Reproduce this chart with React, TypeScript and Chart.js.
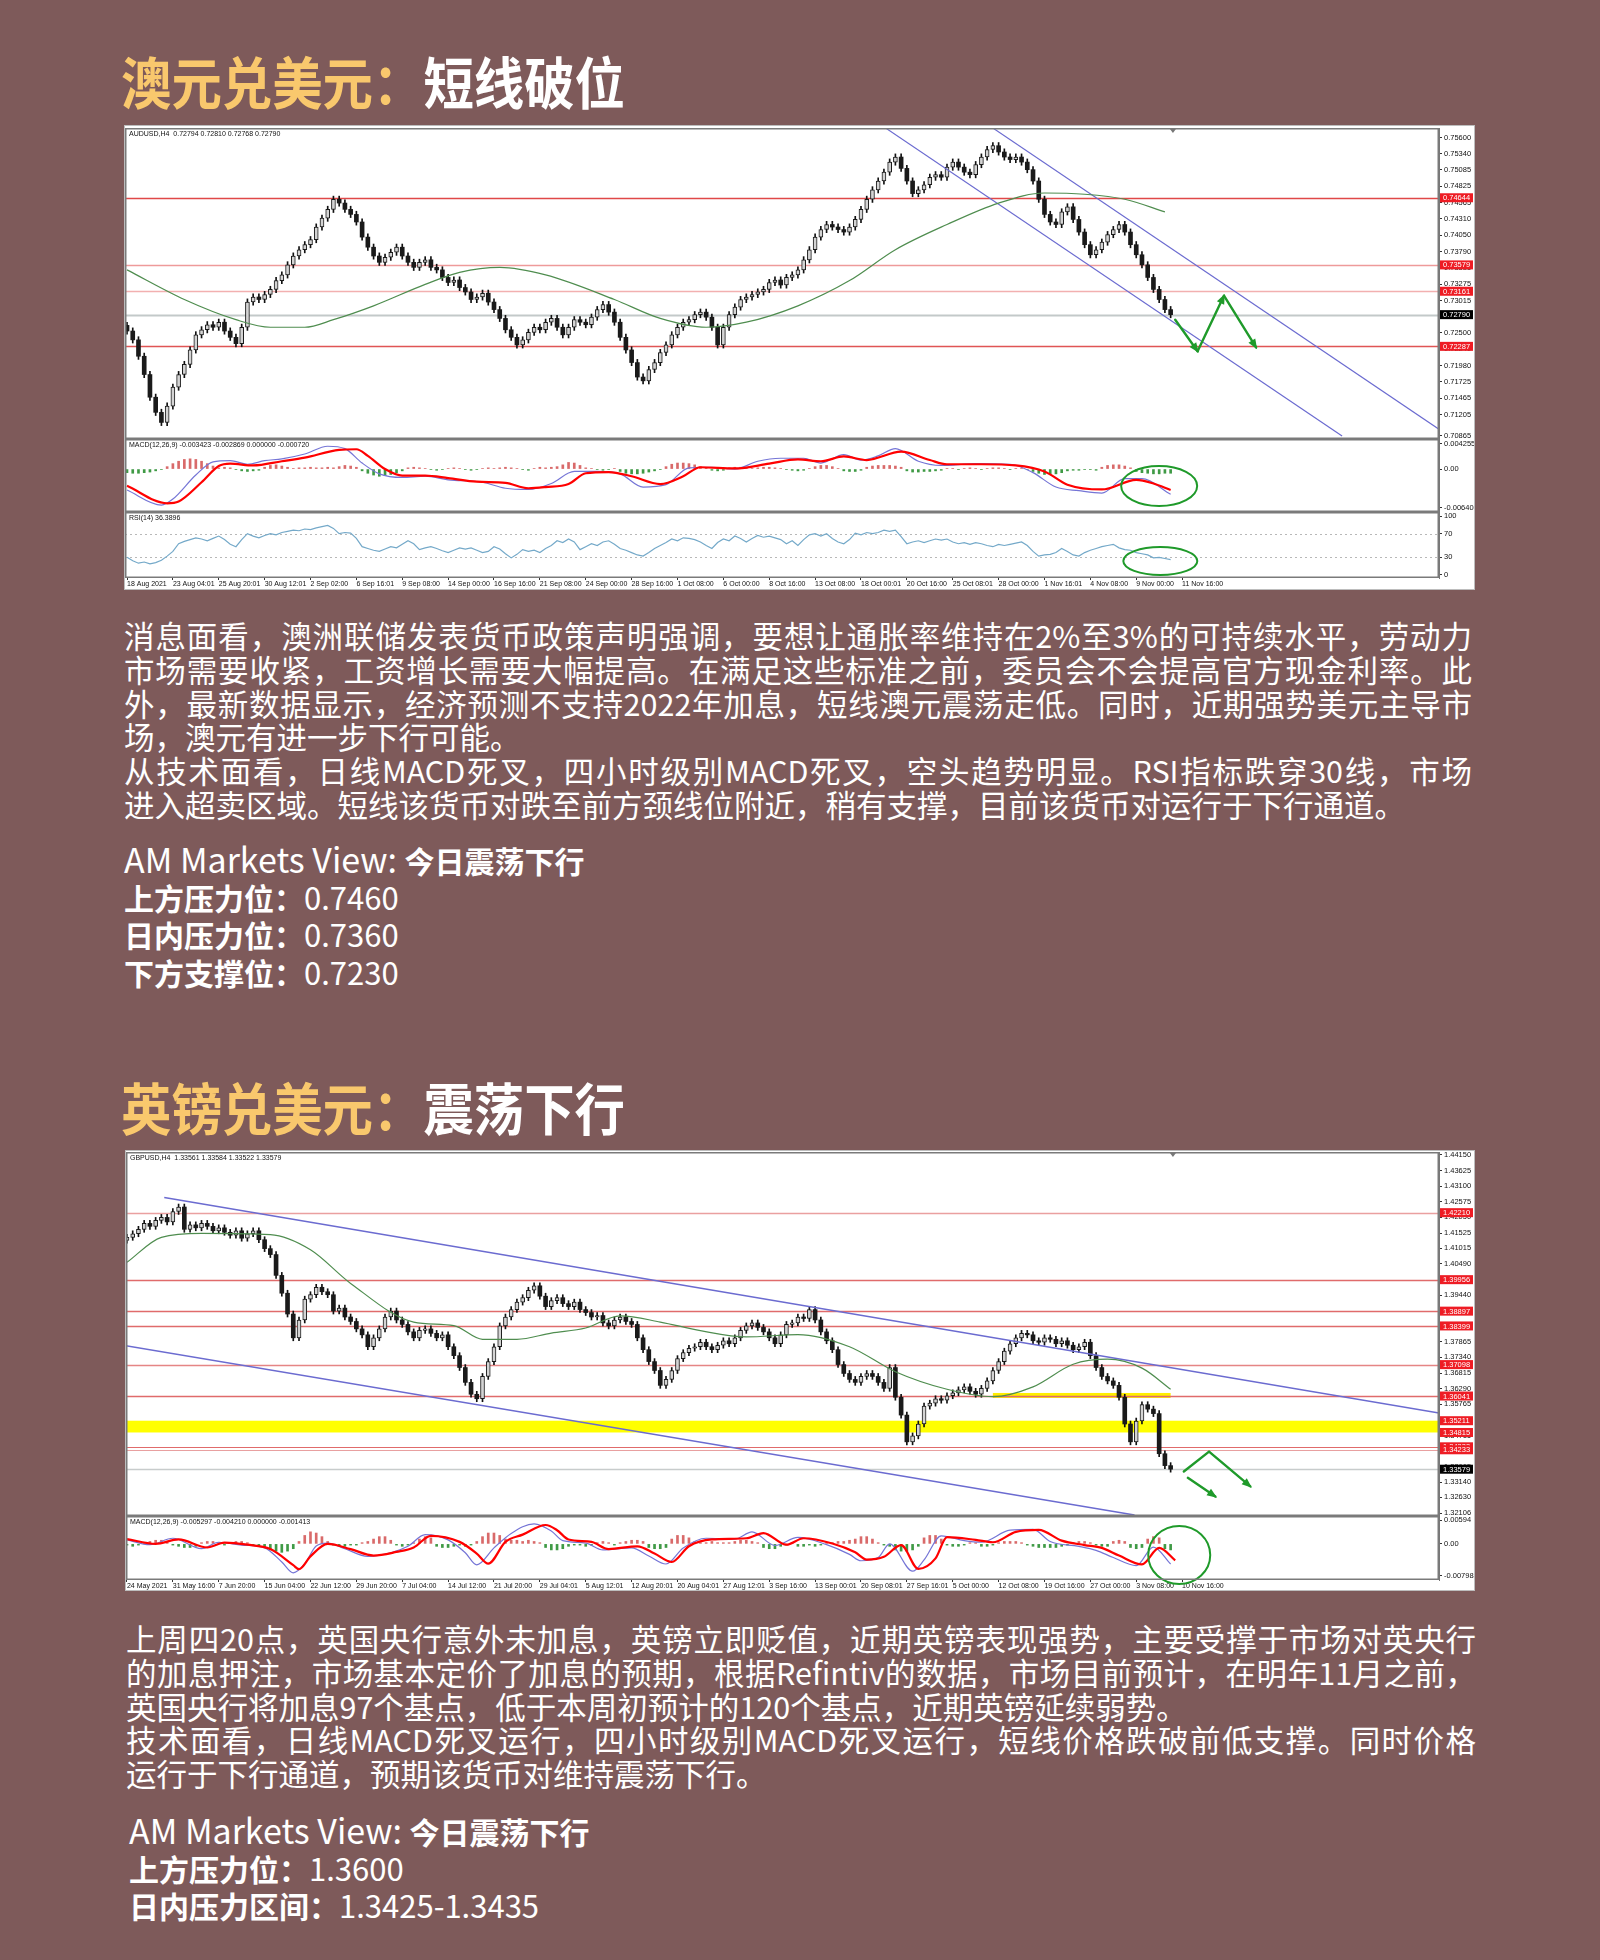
import React, { useEffect, useRef } from "react";
import { Chart, registerables } from "chart.js";

Chart.register(...registerables);

const PAGE_BG = "#7e5a5a";
const TITLE_GOLD = "#f9c86d";
const CJK = '"Noto Sans CJK SC", "Noto Sans", sans-serif';
const AXF = '"Liberation Sans", "DejaVu Sans", sans-serif';

// ================= AUD/USD =================
const AUD_DATES = ["18 Aug 2021", "23 Aug 04:01", "25 Aug 20:01", "30 Aug 12:01", "2 Sep 02:00", "6 Sep 16:01", "9 Sep 08:00", "14 Sep 00:00", "16 Sep 16:00", "21 Sep 08:00", "24 Sep 00:00", "28 Sep 16:00", "1 Oct 08:00", "6 Oct 00:00", "8 Oct 16:00", "13 Oct 08:00", "18 Oct 00:01", "20 Oct 16:00", "25 Oct 08:01", "28 Oct 00:00", "1 Nov 16:01", "4 Nov 08:00", "9 Nov 00:00", "11 Nov 16:00"];
const AUD_PRICE_TICKS = [0.756, 0.7534, 0.75085, 0.74825, 0.74565, 0.7431, 0.7405, 0.7379, 0.73535, 0.73275, 0.73015, 0.7276, 0.725, 0.7224, 0.7198, 0.71725, 0.71465, 0.71205, 0.70865];
const AUD_OPEN0 = 0.7262;
const AUD_CLOSE = [
  0.7253, 0.7239, 0.7213, 0.7184, 0.7148, 0.7124, 0.7108, 0.7134, 0.7164, 0.7184,
  0.7200, 0.7223, 0.7247, 0.7255, 0.7263, 0.7259, 0.7267, 0.7253, 0.7243, 0.7233,
  0.7259, 0.7299, 0.7307, 0.7303, 0.7311, 0.7319, 0.7333, 0.7342, 0.7358, 0.7372,
  0.7382, 0.7390, 0.7398, 0.7418, 0.7432, 0.7446, 0.7462, 0.7456, 0.7446, 0.7438,
  0.7426, 0.7402, 0.7386, 0.7372, 0.7362, 0.7370, 0.7378, 0.7386, 0.7372, 0.7362,
  0.7354, 0.7362, 0.7366, 0.7354, 0.7350, 0.7338, 0.7330, 0.7334, 0.7322, 0.7315,
  0.7303, 0.7307, 0.7313, 0.7299, 0.7287, 0.7273, 0.7255, 0.7243, 0.7231, 0.7239,
  0.7251, 0.7259, 0.7255, 0.7267, 0.7273, 0.7259, 0.7247, 0.7259, 0.7271, 0.7267,
  0.7263, 0.7275, 0.7287, 0.7295, 0.7283, 0.7267, 0.7243, 0.7223, 0.7203, 0.7180,
  0.7174, 0.7192, 0.7203, 0.7219, 0.7231, 0.7247, 0.7259, 0.7267, 0.7271, 0.7279,
  0.7283, 0.7275, 0.7259, 0.7231, 0.7259, 0.7279, 0.7291, 0.7303, 0.7307, 0.7311,
  0.7315, 0.7319, 0.7330, 0.7334, 0.7326, 0.7338, 0.7342, 0.7350, 0.7366, 0.7382,
  0.7402, 0.7414, 0.7422, 0.7418, 0.7414, 0.7410, 0.7418, 0.7430, 0.7446, 0.7462,
  0.7477, 0.7491, 0.7505, 0.7521, 0.7529, 0.7511, 0.7491, 0.7471, 0.7477, 0.7485,
  0.7497, 0.7501, 0.7497, 0.7513, 0.7521, 0.7513, 0.7505, 0.7501, 0.7517, 0.7529,
  0.7541, 0.7547, 0.7537, 0.7529, 0.7525, 0.7529, 0.7521, 0.7509, 0.7491, 0.7462,
  0.7438, 0.7426, 0.7422, 0.7442, 0.7450, 0.7430, 0.7410, 0.7390, 0.7374, 0.7382,
  0.7394, 0.7406, 0.7414, 0.7422, 0.7410, 0.7390, 0.7374, 0.7358, 0.7338, 0.7319,
  0.7303, 0.7287, 0.7279,
];
const AUD_MA = [[0, 0.7350], [10, 0.7303], [19, 0.7271], [25, 0.7259], [31, 0.7259], [36, 0.7271], [43, 0.7293], [52, 0.7327], [58, 0.7346], [65, 0.7354], [73, 0.7342], [85, 0.7303], [93, 0.7273], [101, 0.7259], [108, 0.7267], [117, 0.7293], [126, 0.7333], [134, 0.7382], [143, 0.7422], [152, 0.7456], [160, 0.7472], [167, 0.7470], [174, 0.7462], [181, 0.7442]];
const AUD_CH_LOWER = [[132.3, 0.7575], [211.9, 0.70865]];
const AUD_CH_UPPER = [[151, 0.7575], [229, 0.7096]];
const AUD_LEVELS = [0.74644, 0.73579, 0.73161, 0.72287];
const AUD_LAST = 0.7279;
const AUD_ARROWS = [[182.8, 0.7271], [186.7, 0.7221], [191.3, 0.7309], [196.9, 0.7227]];
const AUD_MACD_MAIN = [[0, -0.0035], [6, -0.0060], [8, -0.0050], [12, -0.0010], [15, 0.0012], [18, 0.0014], [21, 0.0008], [24, 0.0014], [27, 0.0017], [31, 0.0025], [35, 0.0038], [38, 0.0034], [41, 0.0010], [44, -0.0008], [48, -0.0014], [52, -0.0012], [56, -0.0018], [62, -0.0022], [66, -0.0032], [70, -0.0034], [74, -0.0024], [78, -0.0004], [82, -0.0004], [86, -0.0008], [90, -0.0030], [94, -0.0026], [98, 0.0002], [102, 0.0003], [106, 0.0000], [110, 0.0013], [114, 0.0018], [118, 0.0018], [121, 0.0010], [125, 0.0024], [128, 0.0015], [131, 0.0022], [134, 0.0034], [138, 0.0013], [142, 0.0006], [148, 0.0009], [154, 0.0008], [158, -0.0006], [162, -0.0030], [166, -0.0036], [170, -0.0040], [174, -0.0016], [177, -0.0016], [182, -0.0042]];
const AUD_MACD_SIGNAL = [[0, -0.0028], [7, -0.0057], [9, -0.0054], [13, -0.0022], [16, 0.0005], [18, 0.0009], [22, 0.0006], [27, 0.0013], [31, 0.0019], [37, 0.0032], [40, 0.0033], [42, 0.0022], [45, 0.0000], [48, -0.0011], [52, -0.0011], [56, -0.0015], [61, -0.0021], [66, -0.0023], [70, -0.0032], [73, -0.0030], [77, -0.0025], [80, -0.0007], [84, -0.0005], [88, -0.0012], [93, -0.0025], [97, -0.0012], [100, 0.0003], [106, 0.0001], [112, 0.0009], [117, 0.0016], [121, 0.0013], [125, 0.0021], [129, 0.0015], [135, 0.0029], [140, 0.0015], [143, 0.0008], [149, 0.0008], [155, 0.0006], [160, -0.0004], [164, -0.0026], [170, -0.0034], [176, -0.0018], [179, -0.0024], [182, -0.0035]];
const AUD_HIST_UNIT = 0.0001;
const AUD_HIST = [
  -6, -7, -7, -6, -5, -3, -1,
  4, 9, 13, 16, 17, 16, 13, 9, 5,
  2, 3, 2, -1,
  -3, -4, -3, -2,
  3, 6, 7, 5, 3,
  1, 2, 2, 3, 2, 2, 3, 2,
  4, 6, 5, 3,
  -3, -7, -10, -12, -11, -9, -6, -3,
  2, 3, 2,
  1, -1, -2, -1, 1, 2, 1, -1, -2, -1, 1, 2, 1,
  2, 3, 2, 1, -1, -2, 1, 3, 2, 3, 4,
  7, 11, 10, 6,
  2, 1, -1, -2, -1, 1,
  -4, -7, -8, -8, -7, -5, -3, -1,
  4, 8, 10, 10, 9, 7, 4,
  2, -2, -3, -2,
  2, 3, 3, 2, 1, 2, 3, 3, 2, 1, -1, -2,
  -3, -2, 1,
  4, 6, 6, 4, 1,
  -3, -4, -4, -2,
  3, 5, 6, 6, 6, 5, 3,
  -3, -5, -5, -4, -4, -3, -2,
  1, 1, -1, 1, 2, 1, -1, 1, 2, 2, 1, -1, 1, 1, -1,
  -4, -7, -9, -9, -8, -6, -3,
  -2, -2, -1, -1, -2,
  3, 6, 7, 7, 5, 2,
  -4, -6, -7, -8, -8, -7, -7,
];
const AUD_RSI = [
  30, 24, 20, 22, 19, 21, 25, 32, 40, 53,
  57, 60, 63, 61, 58, 62, 66, 60, 52, 48,
  60, 70, 66, 63, 67, 70, 68, 72, 74, 76,
  75, 78, 77, 80, 82, 84, 79, 70, 72, 71,
  62, 48, 45, 42, 40, 44, 48, 46, 52, 58,
  53, 43, 46, 48, 45, 41, 38, 42, 46, 44,
  46, 42, 38, 40, 48, 44, 36, 29, 35, 43,
  40, 42, 38, 45, 50, 58, 55, 61, 56, 43,
  48, 53, 50, 56, 58, 52, 45, 42, 38, 34,
  32, 38, 45, 50, 55, 61, 58, 63, 62, 60,
  56, 50, 45, 55, 61, 58, 66, 62, 56, 62,
  67, 64, 66, 63, 60, 53, 58, 50, 60, 68,
  70, 66, 70, 62, 56, 53, 60, 71, 68, 72,
  70, 72, 76, 74, 76, 65, 53, 56, 58, 55,
  58, 61, 59, 61, 56, 53, 55, 52, 55, 53,
  50, 48, 52, 50, 52, 54, 56, 50, 40, 32,
  34, 35, 38, 45, 40, 34, 32, 38, 42, 45,
  48, 50, 52, 46, 43, 42, 38, 36, 34, 29,
  30, 28, 26,
];

// ================= GBP/USD =================
const GBP_DATES = ["24 May 2021", "31 May 16:00", "7 Jun 20:00", "15 Jun 04:00", "22 Jun 12:00", "29 Jun 20:00", "7 Jul 04:00", "14 Jul 12:00", "21 Jul 20:00", "29 Jul 04:01", "5 Aug 12:01", "12 Aug 20:01", "20 Aug 04:01", "27 Aug 12:01", "3 Sep 16:00", "13 Sep 00:01", "20 Sep 08:01", "27 Sep 16:01", "5 Oct 00:00", "12 Oct 08:00", "19 Oct 16:00", "27 Oct 00:00", "3 Nov 08:00", "10 Nov 16:00"];
const GBP_PRICE_TICKS = [1.4415, 1.43625, 1.431, 1.42575, 1.4205, 1.41525, 1.41015, 1.4049, 1.39965, 1.3944, 1.38915, 1.3839, 1.37865, 1.3734, 1.36815, 1.3629, 1.35765, 1.3524, 1.34715, 1.3419, 1.33665, 1.3314, 1.3263, 1.32106];
const GBP_OPEN0 = 1.4128;
const GBP_CLOSE = [
  1.4138, 1.4150, 1.4165, 1.4185, 1.4175, 1.4195, 1.4205, 1.4190, 1.4225, 1.4240,
  1.4165, 1.4180, 1.4170, 1.4185, 1.4175, 1.4160, 1.4170, 1.4155, 1.4145, 1.4160,
  1.4135, 1.4150, 1.4160, 1.4130, 1.4100, 1.4080, 1.4010, 1.3950, 1.3880, 1.3800,
  1.3860, 1.3930, 1.3945, 1.3970, 1.3955, 1.3945, 1.3890, 1.3900, 1.3870, 1.3855,
  1.3830, 1.3810, 1.3770, 1.3800, 1.3830, 1.3870, 1.3890, 1.3860, 1.3845, 1.3820,
  1.3800, 1.3825, 1.3830, 1.3815, 1.3800, 1.3810, 1.3770, 1.3740, 1.3700, 1.3650,
  1.3610, 1.3595, 1.3670, 1.3720, 1.3770, 1.3840, 1.3870, 1.3895, 1.3920, 1.3935,
  1.3960, 1.3975, 1.3940, 1.3905, 1.3925, 1.3935, 1.3915, 1.3905, 1.3920, 1.3895,
  1.3885, 1.3870, 1.3875, 1.3850, 1.3840, 1.3860, 1.3870, 1.3855, 1.3845, 1.3800,
  1.3760, 1.3720, 1.3690, 1.3640, 1.3660, 1.3690, 1.3730, 1.3750, 1.3765, 1.3770,
  1.3785, 1.3770, 1.3760, 1.3775, 1.3790, 1.3780, 1.3800, 1.3825, 1.3840, 1.3850,
  1.3835, 1.3820, 1.3800, 1.3780, 1.3810, 1.3845, 1.3850, 1.3870, 1.3865, 1.3895,
  1.3860, 1.3820, 1.3790, 1.3760, 1.3710, 1.3680, 1.3660, 1.3650, 1.3670, 1.3680,
  1.3670, 1.3650, 1.3630, 1.3700, 1.3600, 1.3540, 1.3450, 1.3470, 1.3510, 1.3570,
  1.3580, 1.3595, 1.3590, 1.3605, 1.3615, 1.3625, 1.3635, 1.3620, 1.3610, 1.3630,
  1.3655, 1.3690, 1.3720, 1.3755, 1.3780, 1.3800, 1.3815, 1.3810, 1.3790, 1.3785,
  1.3800, 1.3795, 1.3780, 1.3790, 1.3775, 1.3760, 1.3770, 1.3785, 1.3740, 1.3700,
  1.3670, 1.3655, 1.3640, 1.3600, 1.3510, 1.3450, 1.3520, 1.3575, 1.3560, 1.3545,
  1.3410, 1.3370, 1.3358,
];
const GBP_MA = [[0, 1.4054], [6, 1.4138], [13, 1.4151], [25, 1.4147], [32, 1.4096], [39, 1.3983], [50, 1.3853], [57, 1.3841], [62, 1.3795], [68, 1.3795], [74, 1.3816], [80, 1.3833], [86, 1.3874], [93, 1.3853], [100, 1.3824], [108, 1.3803], [117, 1.3811], [126, 1.3770], [134, 1.3686], [143, 1.3627], [151, 1.3602], [158, 1.3635], [165, 1.3711], [171, 1.3728], [177, 1.3698], [182, 1.3627]];
const GBP_CH_UPPER = [[6.5, 1.4272], [228.8, 1.3547]];
const GBP_CH_LOWER = [[-1, 1.3776], [175.7, 1.3204]];
const GBP_LEVELS = [1.4221, 1.39956, 1.38897, 1.38399, 1.37098, 1.36041, 1.35211, 1.34815, 1.34333, 1.34233];
const GBP_LAST = 1.33579;
const GBP_BAND = [1.34815, 1.35211];
const GBP_SHORT_SEG = [151, 182, 1.3606];
const GBP_ARROW_A = [[184.3, 1.3350], [188.7, 1.3417], [195.9, 1.3300]];
const GBP_ARROW_B = [[185, 1.3329], [189.8, 1.3266]];
const GBP_MACD_MAIN = [[0, 0.0010], [4, -0.0002], [8, 0.0014], [13, -0.0012], [16, 0.0004], [20, -0.0003], [24, -0.0010], [27, -0.0045], [29, -0.0072], [31, -0.0050], [33, -0.0005], [35, 0.0002], [38, -0.0012], [42, -0.0031], [46, -0.0022], [49, -0.0006], [52, 0.0023], [56, 0.0010], [59, -0.0022], [61, -0.0052], [64, -0.0010], [67, 0.0026], [71, 0.0050], [74, 0.0032], [76, 0.0008], [80, 0.0002], [83, -0.0015], [88, -0.0010], [91, -0.0030], [94, -0.0050], [97, -0.0010], [101, 0.0014], [106, 0.0012], [109, 0.0030], [113, -0.0004], [117, 0.0016], [122, -0.0002], [126, -0.0026], [128, -0.0042], [131, -0.0034], [133, 0.0000], [137, -0.0068], [139, -0.0040], [142, 0.0020], [146, 0.0008], [149, 0.0004], [154, 0.0034], [158, 0.0036], [161, 0.0006], [166, -0.0006], [169, -0.0016], [172, -0.0034], [176, -0.0054], [179, -0.0008], [182, -0.0050]];
const GBP_MACD_SIGNAL = [[0, 0.0012], [5, 0.0000], [9, 0.0011], [14, -0.0009], [17, 0.0003], [21, -0.0002], [25, -0.0013], [29, -0.0053], [30, -0.0063], [32, -0.0031], [35, 0.0000], [39, -0.0013], [43, -0.0029], [47, -0.0020], [50, -0.0009], [53, 0.0020], [58, 0.0005], [61, -0.0024], [63, -0.0049], [66, 0.0005], [69, 0.0023], [73, 0.0047], [75, 0.0034], [77, 0.0011], [81, 0.0005], [84, -0.0013], [89, -0.0006], [92, -0.0024], [95, -0.0045], [98, -0.0006], [102, 0.0011], [108, 0.0014], [111, 0.0027], [115, -0.0002], [118, 0.0014], [123, 0.0001], [127, -0.0021], [129, -0.0039], [132, -0.0032], [135, -0.0003], [138, -0.0062], [141, -0.0036], [143, 0.0017], [148, 0.0010], [151, 0.0004], [155, 0.0030], [159, 0.0035], [163, 0.0008], [167, -0.0003], [170, -0.0010], [173, -0.0029], [177, -0.0051], [180, -0.0010], [182.8, -0.0041]];
const GBP_HIST_UNIT = 0.0003;
const GBP_HIST = [
  -1, -2, -1, 1, 2, 3, 3, 2, -1, -2,
  -3, -3, -2, 1, 2, 2, 1, -1, 1, 2,
  2, 1, -1, -2,
  -3, -5, -6, -7, -6, -4, 2,
  7, 10, 9, 6, 2,
  -1, -2, -2, -1, -1, 1, 2,
  4, 6, 6, 3,
  -1, -2, -1, 1,
  4, 6, 5,
  -2, -3, -3, -2,
  -1, -2, -1, 2,
  6, 9, 9, 7, 4,
  3, 3, 2, 3, 2, 1,
  -3, -5, -5, -4, -2,
  -1, -1, -2, -1, 1, 2, 1, -1, 1, 2,
  3, 3, 2,
  -3, -4, -4, -3,
  4, 7, 7, 5,
  2, 1, 1, 2, 1, 1, 1, 2,
  3, 3, 2, 1,
  -3, -4, -4, -2, -1, 1,
  -2, -2, -1, -2, -1,
  1, 1, 2, 2, 3, 4,
  6, 6, 4,
  1, -1, -2,
  -5, -6, -6, -5, -2,
  5, 7, 7, 4,
  -1, -2, -2, -1, 1, 1,
  -2, -2, -1,
  1, 2, 2, 2, 1, -1,
  -2, -3, -3, -3, -3, -2, -1,
  1, 2, 2, 1,
  -1, -2, -2,
  2, 3, 2,
  -3, -4, -3,
  4, 6, 5,
  -4, -5,
];

// ================= text =================
const P1_LINES = [
  ["消息面看，澳洲联储发表货币政策声明强调，要想让通胀率维持在2%至3%的可持续水平，劳动力", true],
  ["市场需要收紧，工资增长需要大幅提高。在满足这些标准之前，委员会不会提高官方现金利率。此", true],
  ["外，最新数据显示，经济预测不支持2022年加息，短线澳元震荡走低。同时，近期强势美元主导市", true],
  ["场，澳元有进一步下行可能。", false],
  ["从技术面看，日线MACD死叉，四小时级别MACD死叉，空头趋势明显。RSI指标跌穿30线，市场", true],
  ["进入超卖区域。短线该货币对跌至前方颈线位附近，稍有支撑，目前该货币对运行于下行通道。", false],
];
const P2_LINES = [
  ["上周四20点，英国央行意外未加息，英镑立即贬值，近期英镑表现强势，主要受撑于市场对英央行", true],
  ["的加息押注，市场基本定价了加息的预期，根据Refintiv的数据，市场目前预计，在明年11月之前，", true],
  ["英国央行将加息97个基点，低于本周初预计的120个基点，近期英镑延续弱势。", false],
  ["技术面看，日线MACD死叉运行，四小时级别MACD死叉运行，短线价格跌破前低支撑。同时价格", true],
  ["运行于下行通道，预期该货币对维持震荡下行。", false],
];
const VIEW1 = [
  [["AM Markets View: ", 400, 34], ["今日震荡下行", 700, 30]],
  [["上方压力位：", 700, 30], ["0.7460", 400, 31]],
  [["日内压力位：", 700, 30], ["0.7360", 400, 31]],
  [["下方支撑位：", 700, 30], ["0.7230", 400, 31]],
];
const VIEW2 = [
  [["AM Markets View: ", 400, 34], ["今日震荡下行", 700, 30]],
  [["上方压力位：", 700, 30], ["1.3600", 400, 31]],
  [["日内压力区间：", 700, 30], ["1.3425-1.3435", 400, 31]],
];

// ================= chart helpers =================
function candleSets(closes: number[], open0: number, pad: number) {
  const opens = closes.map((c, i) => (i === 0 ? open0 : closes[i - 1]));
  const up = closes.map((c, i) => c >= opens[i]);
  return [
    {
      type: "bar", yAxisID: "yMain", grouped: false, order: 4, barThickness: 1,
      data: closes.map((c, i) => ({ x: i, y: [Math.min(c, opens[i]) - pad, Math.max(c, opens[i]) + pad] })),
      backgroundColor: "#111",
    },
    {
      type: "bar", yAxisID: "yMain", grouped: false, order: 3, barThickness: 4, minBarLength: 1,
      data: closes.map((c, i) => ({ x: i, y: [opens[i], c] })),
      backgroundColor: up.map((u) => (u ? "#d4d4d4" : "#1a1a1a")),
      borderColor: "#1a1a1a", borderWidth: up.map((u) => (u ? 1 : 0)), borderSkipped: false,
    },
  ];
}
function lineSet(pts: number[][], axis: string, color: string, width: number, tension: number) {
  return {
    type: "line", yAxisID: axis, order: 1, data: pts.map(([x, y]) => ({ x, y })),
    borderColor: color, borderWidth: width, pointRadius: 0, tension, fill: false,
    cubicInterpolationMode: tension > 0 ? "monotone" : "default",
  };
}
function histSet(vals: number[], unit: number) {
  return {
    type: "bar", yAxisID: "yMacd", grouped: false, order: 5, barThickness: 2,
    data: vals.map((v, i) => ({ x: i, y: v * unit })),
    backgroundColor: vals.map((v) => (v >= 0 ? "#d96a6a" : "#3f9a45")),
  };
}

function makeDecor(spec: any) {
  return {
    id: "mt4decor",
    beforeDatasetsDraw(chart: any) {
      const { ctx, chartArea: ca } = chart;
      const xs = chart.scales.x;
      const ym = chart.scales.yMain;
      ctx.save();
      for (const b of spec.bands || []) {
        const y1 = ym.getPixelForValue(b.from), y2 = ym.getPixelForValue(b.to);
        ctx.fillStyle = b.color;
        ctx.fillRect(ca.left, Math.min(y1, y2), ca.right - ca.left, Math.abs(y2 - y1));
      }
      for (const s of spec.segs || []) {
        const y = ym.getPixelForValue(s.value);
        ctx.fillStyle = s.color;
        const x0 = xs.getPixelForValue(s.x0), x1 = xs.getPixelForValue(s.x1);
        ctx.fillRect(x0, y - s.h / 2, x1 - x0, s.h);
      }
      for (const l of spec.levels || []) {
        const y = Math.round(ym.getPixelForValue(l.value)) + 0.5;
        ctx.strokeStyle = l.color;
        ctx.lineWidth = l.width || 1;
        ctx.beginPath();
        ctx.moveTo(ca.left, y);
        ctx.lineTo(ca.right, y);
        ctx.stroke();
      }
      for (const d of spec.dotted || []) {
        const sc = chart.scales[d.axis];
        const y = Math.round(sc.getPixelForValue(d.value)) + 0.5;
        ctx.strokeStyle = "#b8b8b8";
        ctx.lineWidth = 1;
        ctx.setLineDash([2, 3]);
        ctx.beginPath();
        ctx.moveTo(ca.left, y);
        ctx.lineTo(ca.right, y);
        ctx.stroke();
        ctx.setLineDash([]);
      }
      ctx.restore();
    },
    afterDraw(chart: any) {
      const { ctx, chartArea: ca } = chart;
      const xs = chart.scales.x;
      ctx.save();
      ctx.strokeStyle = "#1f9a2a";
      ctx.fillStyle = "#1f9a2a";
      ctx.lineWidth = 2.4;
      ctx.lineCap = "round";
      for (const a of spec.arrows || []) {
        const sc = chart.scales[a.axis];
        const p0 = [xs.getPixelForValue(a.from[0]), sc.getPixelForValue(a.from[1])];
        const p1 = [xs.getPixelForValue(a.to[0]), sc.getPixelForValue(a.to[1])];
        ctx.beginPath();
        ctx.moveTo(p0[0], p0[1]);
        ctx.lineTo(p1[0], p1[1]);
        ctx.stroke();
        if (a.head) {
          const ang = Math.atan2(p1[1] - p0[1], p1[0] - p0[0]);
          const L = 8, Wd = 4;
          ctx.beginPath();
          ctx.moveTo(p1[0] + Math.cos(ang) * 2, p1[1] + Math.sin(ang) * 2);
          ctx.lineTo(p1[0] - Math.cos(ang) * L + Math.sin(ang) * Wd, p1[1] - Math.sin(ang) * L - Math.cos(ang) * Wd);
          ctx.lineTo(p1[0] - Math.cos(ang) * L - Math.sin(ang) * Wd, p1[1] - Math.sin(ang) * L + Math.cos(ang) * Wd);
          ctx.closePath();
          ctx.fill();
        }
      }
      ctx.lineWidth = 2;
      for (const e of spec.ellipses || []) {
        const sc = chart.scales[e.axis];
        ctx.beginPath();
        ctx.ellipse(xs.getPixelForValue(e.x), sc.getPixelForValue(e.y), e.rx, e.ry, 0, 0, Math.PI * 2);
        ctx.stroke();
      }
      ctx.strokeStyle = "#7a7a7a";
      ctx.lineWidth = 1.5;
      for (const p of spec.panels) {
        const sc = chart.scales[p.id];
        ctx.strokeRect(ca.left + 0.75, sc.top + 0.75, ca.right - ca.left - 1.5, sc.bottom - sc.top - 1.5);
      }
      ctx.fillStyle = "#111";
      ctx.font = "7px " + AXF;
      ctx.textBaseline = "top";
      ctx.textAlign = "left";
      for (const p of spec.panels) {
        const sc = chart.scales[p.id];
        ctx.fillText(p.header, ca.left + 4, sc.top + 3);
      }
      if (spec.marker != null) {
        const ymk = chart.scales.yMain;
        const mx = xs.getPixelForValue(spec.marker);
        ctx.fillStyle = "#777";
        ctx.beginPath();
        ctx.moveTo(mx - 3, ymk.top + 1);
        ctx.lineTo(mx + 3, ymk.top + 1);
        ctx.lineTo(mx, ymk.top + 5);
        ctx.closePath();
        ctx.fill();
      }
      const ym = chart.scales.yMain;
      ctx.font = "7.5px " + AXF;
      ctx.textBaseline = "middle";
      for (const b of spec.boxes || []) {
        const y = ym.getPixelForValue(b.value);
        ctx.fillStyle = b.color;
        ctx.fillRect(ca.right + 1, y - 4.5, 33, 9);
        ctx.fillStyle = "#fff";
        ctx.fillText(b.value.toFixed(5), ca.right + 4, y + 0.5);
      }
      ctx.restore();
    },
  };
}

function buildConfig(spec: any) {
  const scales: any = {
    x: {
      type: "linear", min: spec.xMin, max: spec.xMax, offset: false, position: "bottom", bounds: "data",
      afterBuildTicks: (s: any) => { s.ticks = spec.dates.map((_: string, i: number) => ({ value: i * 8 })); },
      afterFit: (s: any) => { s.height = spec.xAxisH; s.paddingLeft = 0; s.paddingRight = 0; },
      ticks: {
        autoSkip: false, maxRotation: 0, minRotation: 0, align: "start", padding: 0, color: "#111",
        font: { family: AXF, size: 7 }, callback: (_v: any, i: number) => spec.dates[i],
      },
      grid: { drawOnChartArea: false, drawTicks: true, tickLength: 2, color: "#333", offset: false },
      border: { display: false },
    },
  };
  spec.panels.forEach((p: any) => {
    scales[p.id] = {
      type: "linear", position: "right", stack: "mt4", stackWeight: p.weight, min: p.min, max: p.max, bounds: "data",
      afterBuildTicks: (s: any) => { s.ticks = p.ticks.map((v: number) => ({ value: v })); },
      afterFit: (s: any) => { s.width = 35; s.paddingTop = 0; s.paddingBottom = 0; },
      ticks: { autoSkip: false, padding: 2, color: "#111", font: { family: AXF, size: 7.5 }, callback: (_v: any, i: number) => p.labels[i] },
      grid: { drawOnChartArea: false, tickLength: 3, color: "#333" },
      border: { display: true, color: "#777" },
    };
  });
  return {
    type: "bar",
    data: { datasets: spec.datasets },
    options: {
      responsive: false, animation: false, events: [],
      layout: { padding: { top: spec.padTop, left: 0, right: 0, bottom: 0 } },
      plugins: { legend: { display: false }, tooltip: { enabled: false } },
      scales,
    },
    plugins: [makeDecor(spec)],
  };
}

const AUD_SPEC = {
  xMin: -0.35, xMax: 228.8, xAxisH: 11, padTop: 2, dates: AUD_DATES, marker: 182.4,
  panels: [
    { id: "yMain", weight: 311, min: 0.708174, max: 0.757507, ticks: AUD_PRICE_TICKS, labels: AUD_PRICE_TICKS.map((v) => v.toFixed(5)), header: "AUDUSD,H4  0.72794 0.72810 0.72768 0.72790" },
    { id: "yMacd", weight: 73, min: -0.007152, max: 0.005004, ticks: [0.004255, 0, -0.006403], labels: ["0.004255", "0.00", "-0.006403"], header: "MACD(12,26,9) -0.003423 -0.002869 0.000000 -0.000720" },
    { id: "yRsi", weight: 66, min: -5.1, max: 106.8, ticks: [100, 70, 30, 0], labels: ["100", "70", "30", "0"], header: "RSI(14) 36.3896" },
  ],
  levels: [
    { value: AUD_LEVELS[0], color: "#e04848", width: 1.5 },
    { value: AUD_LEVELS[1], color: "#ee9a9a", width: 1.5 },
    { value: AUD_LEVELS[2], color: "#f2b0b0", width: 1.5 },
    { value: AUD_LAST, color: "#c3c9c9", width: 2 },
    { value: AUD_LEVELS[3], color: "#e05555", width: 1.5 },
  ],
  dotted: [{ axis: "yRsi", value: 70 }, { axis: "yRsi", value: 30 }],
  boxes: [
    ...AUD_LEVELS.map((v) => ({ value: v, color: "#ee1c24" })),
    { value: AUD_LAST, color: "#000" },
  ],
  arrows: [
    { axis: "yMain", from: AUD_ARROWS[0], to: AUD_ARROWS[1], head: true },
    { axis: "yMain", from: AUD_ARROWS[1], to: AUD_ARROWS[2], head: true },
    { axis: "yMain", from: AUD_ARROWS[2], to: AUD_ARROWS[3], head: true },
  ],
  ellipses: [
    { axis: "yMacd", x: 180, y: -0.00282, rx: 38, ry: 20 },
    { axis: "yRsi", x: 180.2, y: 23.7, rx: 37, ry: 14 },
  ],
  datasets: [
    ...candleSets(AUD_CLOSE, AUD_OPEN0, 0.0005),
    lineSet(AUD_MA, "yMain", "#4f8d4f", 1.2, 0.4),
    lineSet(AUD_CH_LOWER, "yMain", "#6b6bd0", 1.2, 0),
    lineSet(AUD_CH_UPPER, "yMain", "#6b6bd0", 1.2, 0),
    histSet(AUD_HIST, AUD_HIST_UNIT),
    lineSet(AUD_MACD_MAIN, "yMacd", "#7575d6", 1.2, 0.4),
    { ...lineSet(AUD_MACD_SIGNAL, "yMacd", "#ff0000", 2.2, 0.4), order: 0 },
    lineSet(AUD_RSI.map((v, i) => [i, v]), "yRsi", "#74a9c9", 1.2, 0),
  ],
};

const GBP_SPEC = {
  xMin: -0.17, xMax: 228.8, xAxisH: 10, padTop: 1, dates: GBP_DATES, marker: 182.4,
  panels: [
    { id: "yMain", weight: 364, min: 1.320051, max: 1.442509, ticks: GBP_PRICE_TICKS, labels: GBP_PRICE_TICKS.map((v) => v.toFixed(5)), header: "GBPUSD,H4  1.33561 1.33584 1.33522 1.33579" },
    { id: "yMacd", weight: 64, min: -0.008983, max: 0.006935, ticks: [0.00594, 0, -0.007988], labels: ["0.00594", "0.00", "-0.007988"], header: "MACD(12,26,9) -0.005297 -0.004210 0.000000 -0.001413" },
  ],
  bands: [{ from: GBP_BAND[0], to: GBP_BAND[1], color: "#ffff00" }],
  segs: [{ x0: GBP_SHORT_SEG[0], x1: GBP_SHORT_SEG[1], value: GBP_SHORT_SEG[2], h: 5, color: "#ffee00" }],
  levels: [
    { value: GBP_LEVELS[0], color: "#eaa0a0", width: 1.5 },
    { value: GBP_LEVELS[1], color: "#e06b6b", width: 1.5 },
    { value: GBP_LEVELS[2], color: "#e06b6b", width: 1.5 },
    { value: GBP_LEVELS[3], color: "#e06b6b", width: 1.5 },
    { value: GBP_LEVELS[4], color: "#e58585", width: 1.5 },
    { value: GBP_LEVELS[5], color: "#e06b6b", width: 1.5 },
    { value: GBP_LEVELS[8], color: "#e06b6b", width: 1.2 },
    { value: GBP_LEVELS[9], color: "#e8a0a0", width: 1.2 },
    { value: GBP_LAST, color: "#c8cccc", width: 1.5 },
  ],
  boxes: [
    ...GBP_LEVELS.map((v) => ({ value: v, color: "#ee1c24" })),
    { value: GBP_LAST, color: "#000" },
  ],
  arrows: [
    { axis: "yMain", from: GBP_ARROW_A[0], to: GBP_ARROW_A[1], head: false },
    { axis: "yMain", from: GBP_ARROW_A[1], to: GBP_ARROW_A[2], head: true },
    { axis: "yMain", from: GBP_ARROW_B[0], to: GBP_ARROW_B[1], head: true },
  ],
  ellipses: [{ axis: "yMacd", x: 183.5, y: -0.00276, rx: 31, ry: 29 }],
  datasets: [
    ...candleSets(GBP_CLOSE, GBP_OPEN0, 0.001),
    lineSet(GBP_MA, "yMain", "#4f8d4f", 1.2, 0.4),
    lineSet(GBP_CH_UPPER, "yMain", "#6b6bd0", 1.4, 0),
    lineSet(GBP_CH_LOWER, "yMain", "#6b6bd0", 1.4, 0),
    histSet(GBP_HIST, GBP_HIST_UNIT),
    lineSet(GBP_MACD_MAIN, "yMacd", "#7575d6", 1.2, 0.4),
    { ...lineSet(GBP_MACD_SIGNAL, "yMacd", "#ff0000", 2.2, 0.4), order: 0 },
  ],
};

function MT4Chart({ spec, width, height }: { spec: any; width: number; height: number }) {
  const ref = useRef<HTMLCanvasElement>(null);
  useEffect(() => {
    const chart = new Chart(ref.current as HTMLCanvasElement, buildConfig(spec) as any);
    return () => chart.destroy();
  }, [spec]);
  return <canvas ref={ref} width={width} height={height} style={{ display: "block", width, height }} />;
}

function Title({ top, gold, white }: { top: number; gold: string; white: string }) {
  return (
    <div style={{ position: "absolute", left: 121, top, fontSize: 56, lineHeight: "60px", height: 60, fontWeight: 700, whiteSpace: "nowrap", transform: "scaleX(0.9)", transformOrigin: "left top" }}>
      <span style={{ color: TITLE_GOLD }}>{gold}</span>
      <span style={{ color: "#ffffff" }}>{white}</span>
    </div>
  );
}

function Para({ lines, top, left, width }: { lines: any[]; top: number; left: number; width: number }) {
  return (
    <>
      {lines.map(([t, j]: any, i: number) => (
        <div key={i} style={{ position: "absolute", left, top: top + i * 33.8, width, height: 34, fontSize: 30.5, lineHeight: "34px", color: "#fff", textAlign: j ? "justify" : "left", textAlignLast: j ? "justify" : "left" } as any}>
          {t}
        </div>
      ))}
    </>
  );
}

function View({ rows, top, left }: { rows: any[]; top: number; left: number }) {
  return (
    <>
      {rows.map((parts: any[], i: number) => (
        <div key={i} style={{ position: "absolute", left, top: top + i * 37.5, fontSize: 30, lineHeight: "38px", color: "#fff", whiteSpace: "nowrap" }}>
          {parts.map(([t, w, s]: any, k: number) => (
            <span key={k} style={{ fontWeight: w, fontSize: s }}>{t}</span>
          ))}
        </div>
      ))}
    </>
  );
}

export default function App() {
  return (
    <div style={{ position: "absolute", left: 0, top: 0, width: 1600, height: 1960, background: PAGE_BG, overflow: "hidden", fontFamily: CJK }}>
      <Title top={50} gold="澳元兑美元：" white="短线破位" />
      <div style={{ position: "absolute", left: 124, top: 125, width: 1351, height: 465, background: "#fff", border: "1px solid #bdbdbd", boxSizing: "border-box" }}>
        <MT4Chart spec={AUD_SPEC} width={1349} height={463} />
      </div>
      <Para lines={P1_LINES} top={618} left={124} width={1348} />
      <View rows={VIEW1} top={840} left={124} />

      <Title top={1076} gold="英镑兑美元：" white="震荡下行" />
      <div style={{ position: "absolute", left: 125, top: 1150, width: 1350, height: 441, background: "#fff", border: "1px solid #bdbdbd", boxSizing: "border-box" }}>
        <MT4Chart spec={GBP_SPEC} width={1348} height={439} />
      </div>
      <Para lines={P2_LINES} top={1621} left={126} width={1350} />
      <View rows={VIEW2} top={1811} left={129} />
    </div>
  );
}
